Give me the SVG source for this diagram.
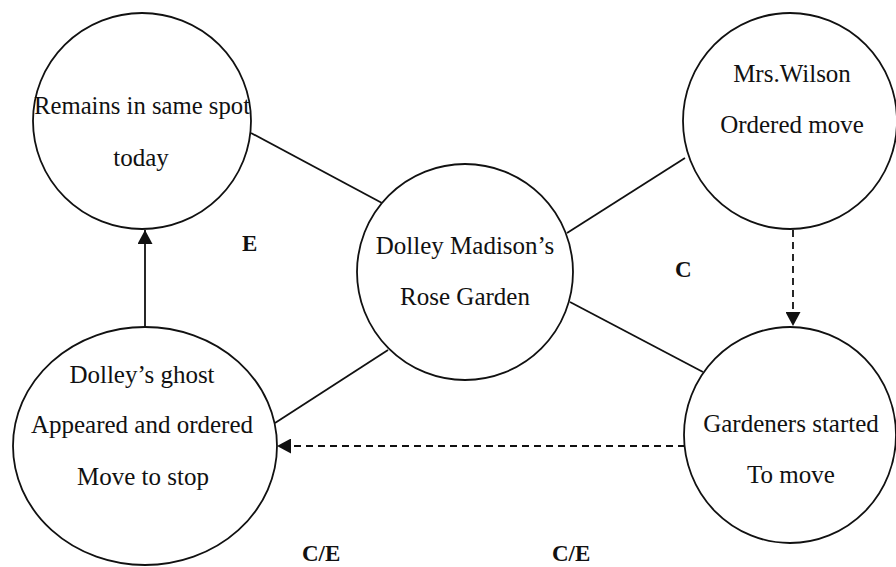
<svg xmlns="http://www.w3.org/2000/svg" width="896" height="567" viewBox="0 0 896 567">
  <style>
    .node { fill: #ffffff; stroke: #111111; stroke-width: 1.8; }
    .label { font-family: "Liberation Serif", "Times New Roman", serif; font-size: 25px; fill: #111111; text-anchor: middle; }
    .tag { font-family: "Liberation Serif", "Times New Roman", serif; font-size: 23px; font-weight: bold; fill: #111111; }
    .link { stroke: #111111; stroke-width: 1.8; fill: none; }
    .dash { stroke-dasharray: 7 5; }
  </style>
  <defs>
    <marker id="head" viewBox="0 0 14 15" refX="14" refY="7.5" markerWidth="14" markerHeight="15" markerUnits="userSpaceOnUse" orient="auto">
      <path d="M0,0 L14,7.5 L0,15 Z" fill="#111111"/>
    </marker>
  </defs>
  <rect width="896" height="567" fill="#ffffff"/>

  <!-- connectors -->
  <g id="connectors">
    <line class="link" x1="251" y1="133" x2="382" y2="203"/>
    <line class="link" x1="567" y1="233" x2="685" y2="158"/>
    <line class="link" x1="570" y1="302" x2="703" y2="372"/>
    <line class="link" x1="388" y1="350" x2="275" y2="423"/>
    <line class="link" x1="145" y1="327" x2="145" y2="230" marker-end="url(#head)"/>
    <line class="link dash" x1="793" y1="230" x2="793" y2="326" marker-end="url(#head)"/>
    <line class="link dash" x1="685" y1="446" x2="277" y2="446" marker-end="url(#head)"/>
  </g>

  <!-- nodes -->
  <g id="remains">
    <ellipse class="node" cx="142" cy="121" rx="109" ry="108"/>
    <text class="label" x="142" y="114" textLength="216" lengthAdjust="spacingAndGlyphs">Remains in same spot</text>
    <text class="label" x="141" y="166">today</text>
  </g>
  <g id="wilson">
    <ellipse class="node" cx="790" cy="121" rx="107" ry="108"/>
    <text class="label" x="792" y="82">Mrs.Wilson</text>
    <text class="label" x="792" y="133">Ordered move</text>
  </g>
  <g id="garden">
    <circle class="node" cx="465" cy="272" r="108"/>
    <text class="label" x="465" y="254">Dolley Madison’s</text>
    <text class="label" x="465" y="305">Rose Garden</text>
  </g>
  <g id="ghost">
    <ellipse class="node" cx="145" cy="446" rx="132" ry="119"/>
    <text class="label" x="142" y="383">Dolley’s ghost</text>
    <text class="label" x="142" y="433">Appeared and ordered</text>
    <text class="label" x="143" y="485">Move to stop</text>
  </g>
  <g id="gardeners">
    <ellipse class="node" cx="790" cy="435" rx="106" ry="108"/>
    <text class="label" x="791" y="432">Gardeners started</text>
    <text class="label" x="791" y="483">To move</text>
  </g>

  <!-- relation tags -->
  <g id="tags">
    <text class="tag" x="242" y="251">E</text>
    <text class="tag" x="675" y="277">C</text>
    <text class="tag" x="302" y="561">C/E</text>
    <text class="tag" x="552" y="561">C/E</text>
  </g>
</svg>
